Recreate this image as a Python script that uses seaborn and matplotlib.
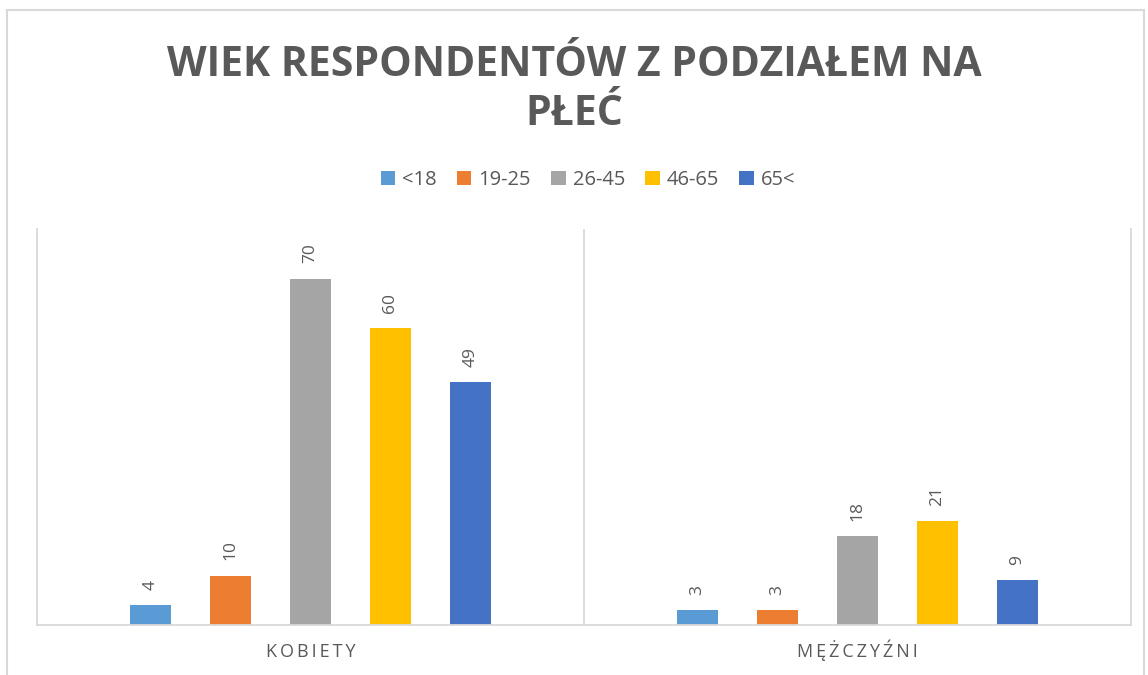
import seaborn as sns
import matplotlib.pyplot as plt
import pandas as pd
from matplotlib.patches import Rectangle

# dane
plec = ["KOBIETY", "MĘŻCZYŹNI"]
grupy_wieku = ["<18", "19-25", "26-45", "46-65", "65<"]
kobiety = [4, 10, 70, 60, 49]
mezczyzni = [3, 3, 18, 21, 9]
kolory = ["#5B9BD5", "#ED7D31", "#A5A5A5", "#FFC000", "#4472C4"]

TEXT = "#595959"
LINE = "#D9D9D9"

df = pd.DataFrame({
    "plec": [plec[0]] * 5 + [plec[1]] * 5,
    "wiek": grupy_wieku * 2,
    "liczba": kobiety + mezczyzni,
})

sns.set_theme(style="white")
plt.rcParams["font.family"] = ["Open Sans", "DejaVu Sans"]

fig = plt.figure(figsize=(11.48, 6.75), dpi=100)
ax = fig.add_axes([37 / 1148, 1 - 625 / 675, (1131 - 37) / 1148, (625 - 229) / 675])

sns.barplot(data=df, x="plec", y="liczba", hue="wiek", palette=kolory, saturation=1,
            width=0.731, gap=0.49, linewidth=0, ax=ax)

for c in ax.containers:
    ax.bar_label(c, rotation=90, padding=11, fontsize=12.5, color=TEXT)

ax.set_ylim(0, 80)
ax.set_xlim(-0.5, 1.5)
ax.set_xlabel("")
ax.set_ylabel("")
ax.set_yticks([])
ax.set_xticklabels(["\u2009".join(p) for p in plec], va="baseline")
ax.tick_params(axis="x", length=0, pad=23, labelsize=13, labelcolor=TEXT)

for s in ["left", "right", "bottom"]:
    ax.spines[s].set_color(LINE)
    ax.spines[s].set_linewidth(1.3)
ax.spines["top"].set_visible(False)
ax.axvline(0.5, color=LINE, lw=1.3)

handles, labels = ax.get_legend_handles_labels()
ax.legend(handles, labels, loc="center", bbox_to_anchor=(588 / 1148, 1 - 180 / 675),
          bbox_transform=fig.transFigure, ncol=5, frameon=False, fontsize=14.5,
          labelcolor=TEXT, handlelength=0.72, handleheight=0.72,
          handletextpad=0.35, columnspacing=1.0)

fig.text(0.5, 1 - 76 / 675, "WIEK RESPONDENTÓW Z PODZIAŁEM NA", ha="center", va="baseline",
         fontsize=29.5, fontweight="bold", color=TEXT)
fig.text(0.5, 1 - 125 / 675, "PŁEĆ", ha="center", va="baseline",
         fontsize=29.5, fontweight="bold", color=TEXT)

# ramka obszaru wykresu
fig.patches.append(Rectangle((7 / 1148, -0.02), (1144 - 7) / 1148, 1.02 - 10 / 675,
                             transform=fig.transFigure, fill=False, edgecolor=LINE, lw=1.5))

fig.savefig("out.png", dpi=100)
